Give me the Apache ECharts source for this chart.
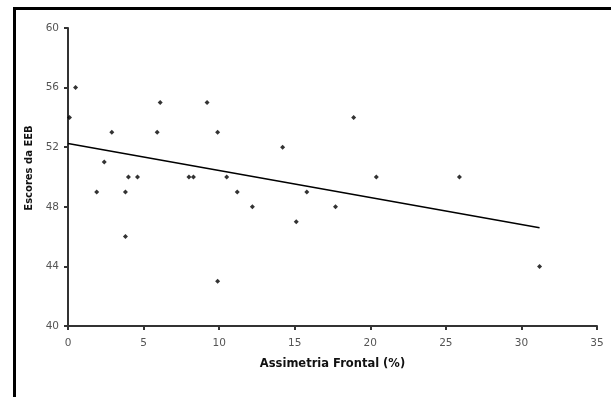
<!DOCTYPE html>
<html>
<head>
<meta charset="utf-8">
<script src="https://cdn.jsdelivr.net/npm/echarts@6/dist/echarts.min.js"></script>
<style>
  html, body {margin: 0; padding: 0; background: #fff;}
  #chart {width: 611px; height: 397px;}
</style>
</head>
<body>
<div id="chart"></div>
<script>
// assimetria frontal (%) e escores da EEB
const assimetria = [0.1, 0.5, 2.9, 6.1, 5.9, 9.2, 9.9, 14.2, 2.4, 4.0, 4.6, 8.0, 8.3, 10.5,
  1.9, 3.8, 11.2, 15.8, 12.2, 3.8, 9.9, 15.1, 18.9, 20.4, 25.9, 17.7, 31.2];
const escores = [54, 56, 53, 55, 53, 55, 53, 52, 51, 50, 50, 50, 50, 50,
  49, 49, 49, 49, 48, 46, 43, 47, 54, 50, 50, 48, 44];
// linha de tendência (extremos)
const trendX = [0, 31.2];
const trendY = [52.25, 46.6];
const xTicks = [0, 5, 10, 15, 20, 25, 30, 35];
const yTicks = [40, 44, 48, 52, 56, 60];

const chart = echarts.init(document.getElementById('chart'));
const labelStyle = {color: '#555', fontSize: 10.5, fontFamily: 'DejaVu Sans'};
chart.setOption({
  animation: false,
  grid: {left: 68, right: 14, top: 28, bottom: 71},
  graphic: [{
    type: 'rect',
    shape: {x: 14.5, y: 8.5, width: 700, height: 500},
    style: {fill: 'none', stroke: '#000', lineWidth: 3}
  }],
  xAxis: {
    type: 'value',
    min: xTicks[0], max: xTicks[xTicks.length - 1], interval: 5,
    name: 'Assimetria Frontal (%)',
    nameLocation: 'middle',
    nameGap: 32,
    nameTextStyle: {color: '#111', fontSize: 11.5, fontWeight: 'bold', fontFamily: 'DejaVu Sans'},
    axisLine: {lineStyle: {color: '#333', width: 2}},
    axisTick: {length: 4, lineStyle: {color: '#333', width: 2}},
    axisLabel: {...labelStyle, margin: 12},
    splitLine: {show: false}
  },
  yAxis: {
    type: 'value',
    min: yTicks[0], max: yTicks[yTicks.length - 1], interval: 4,
    name: 'Escores da EEB',
    nameLocation: 'middle',
    nameGap: 32,
    nameTextStyle: {color: '#111', fontSize: 10, fontWeight: 'bold', fontFamily: 'DejaVu Sans',
      padding: [0, 0, 0, 18]},
    axisLine: {show: true, lineStyle: {color: '#333', width: 2}},
    axisTick: {show: true, length: 4, lineStyle: {color: '#333', width: 2}},
    axisLabel: {...labelStyle, margin: 9},
    splitLine: {show: false}
  },
  series: [{
    type: 'scatter',
    data: assimetria.map((x, i) => [x, escores[i]]),
    symbol: 'diamond',
    symbolSize: 5,
    itemStyle: {color: '#000'}
  }, {
    type: 'line',
    data: trendX.map((x, i) => [x, trendY[i]]),
    symbol: 'none',
    lineStyle: {color: '#000', width: 1.5}
  }]
});
</script>
</body>
</html>
